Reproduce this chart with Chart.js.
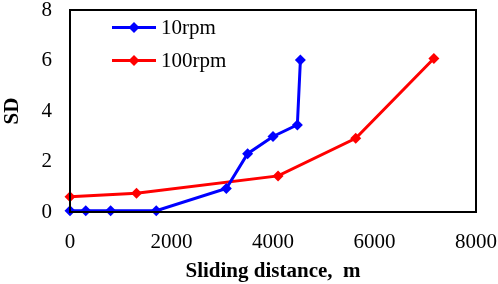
<!DOCTYPE html>
<html>
<head>
<meta charset="utf-8">
<script src="https://cdn.jsdelivr.net/npm/chart.js@4/dist/chart.umd.min.js"></script>
<style>
html,body{margin:0;padding:0;background:#fff}
#wrap{width:498px;height:284px;position:relative}
</style>
</head>
<body>
<div id="wrap"><canvas id="c" width="498" height="284"></canvas></div>
<script>
// ======= Data =======
const seriesNames = ['10rpm', '100rpm'];
const seriesColors = ['#0000ff', '#ff0000'];
const dist10 = [0, 310, 800, 1700, 3080, 3500, 4000, 4480, 4540];
const sd10 = [0.05, 0.05, 0.05, 0.05, 0.93, 2.31, 2.99, 3.45, 6.02];
const dist100 = [0, 1310, 4100, 5630, 7170];
const sd100 = [0.6, 0.74, 1.43, 2.92, 6.08];
const xTicks = [0, 2000, 4000, 6000, 8000];
const yTicks = [0, 2, 4, 6, 8];

const FONT = "'Liberation Serif', 'Times New Roman', serif";
const toPts = (xs, ys) => xs.map((x, i) => ({x: x, y: ys[i]}));

// legend drawn inside plot area, plus the box round it
const boxAndLegend = {
  id: 'boxAndLegend',
  afterDatasetsDraw(chart){
    const {ctx, chartArea: a} = chart;
    ctx.save();
    ctx.strokeStyle = '#000'; ctx.lineWidth = 2;
    ctx.strokeRect(a.left, a.top, a.right - a.left, a.bottom - a.top);
    const rows = [27.5, 60.5];
    chart.data.datasets.forEach((ds, i) => {
      const y = rows[i];
      ctx.strokeStyle = ds.borderColor; ctx.lineWidth = 3;
      ctx.beginPath(); ctx.moveTo(112, y); ctx.lineTo(156, y); ctx.stroke();
      ctx.fillStyle = ds.borderColor; ctx.beginPath();
      ctx.moveTo(134, y - 5.5); ctx.lineTo(139.5, y); ctx.lineTo(134, y + 5.5); ctx.lineTo(128.5, y); ctx.closePath(); ctx.fill();
      ctx.fillStyle = '#000'; ctx.font = '21px ' + FONT;
      ctx.textBaseline = 'middle'; ctx.textAlign = 'left';
      ctx.fillText(ds.label, 161, y + 1);
    });
    ctx.restore();
  }
};

const mkSet = (i, pts) => ({
  label: seriesNames[i], data: pts,
  borderColor: seriesColors[i], backgroundColor: seriesColors[i],
  borderWidth: 3, pointStyle: 'rectRot', pointRadius: 5.5,
  pointBorderWidth: 0, tension: 0, clip: false
});

new Chart(document.getElementById('c'), {
  type: 'scatter',
  data: {datasets: [mkSet(0, toPts(dist10, sd10)), mkSet(1, toPts(dist100, sd100))]},
  options: {
    responsive: false, animation: false, showLine: true,
    layout: {padding: {top: 10, right: 22, left: 0, bottom: 0}},
    plugins: {legend: {display: false}, tooltip: {enabled: false}},
    scales: {
      x: {
        type: 'linear', min: 0, max: 8000,
        afterBuildTicks: s => { s.ticks = xTicks.map(v => ({value: v})); },
        afterFit: s => { s.height = 72; s.paddingLeft = 0; s.paddingRight = 0; },
        grid: {display: false, drawTicks: false},
        border: {display: true, color: '#000', width: 2},
        ticks: {color: '#000', font: {family: FONT, size: 21}, padding: 18, maxRotation: 0,
          callback: v => String(v)},
        title: {display: true, text: 'Sliding distance,  m', color: '#000',
          font: {family: FONT, size: 21, weight: 'bold'}, padding: {top: 0, bottom: 0}}
      },
      y: {
        type: 'linear', min: 0, max: 8,
        afterBuildTicks: s => { s.ticks = yTicks.map(v => ({value: v})); },
        afterFit: s => { s.width = 70; s.paddingTop = 0; s.paddingBottom = 0; },
        grid: {display: false, drawTicks: false},
        border: {display: true, color: '#000', width: 2},
        ticks: {color: '#000', font: {family: FONT, size: 21}, padding: 18,
          callback: v => String(v)},
        title: {display: true, text: 'SD', color: '#000',
          font: {family: FONT, size: 21, weight: 'bold'}, padding: {top: 0, bottom: 0}}
      }
    }
  },
  plugins: [boxAndLegend]
});
</script>
</body>
</html>
